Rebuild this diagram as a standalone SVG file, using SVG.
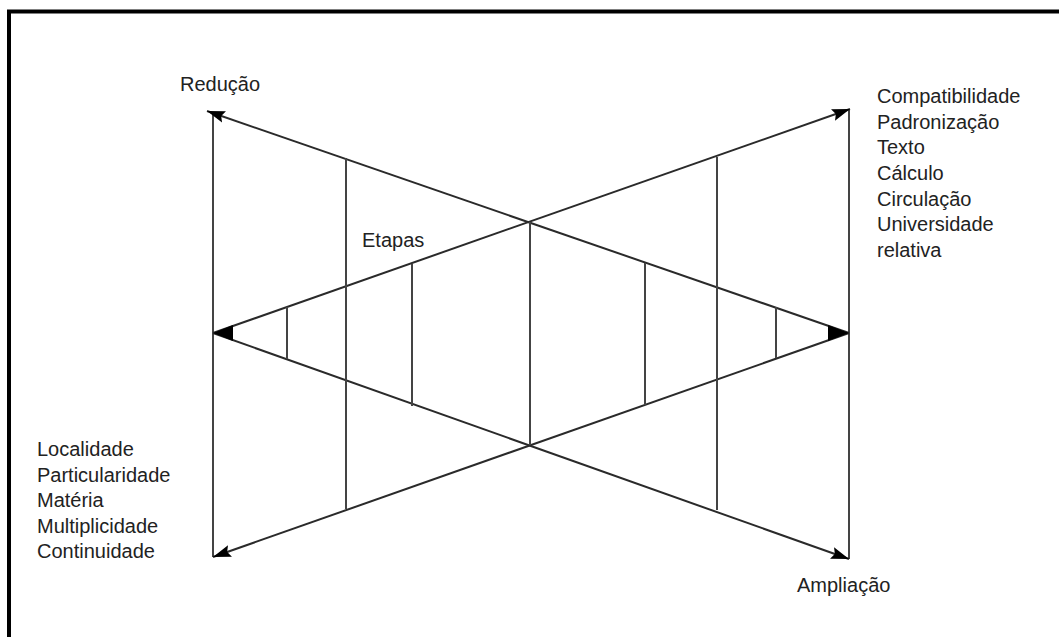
<svg xmlns="http://www.w3.org/2000/svg" width="1059" height="637" viewBox="0 0 1059 637">
<style>
.t{font-family:"Liberation Sans",Arial,sans-serif;font-size:20px;fill:#222}
.ln{stroke:#2a2a2a;stroke-width:2;fill:none}
.v{stroke:#444;stroke-width:2;fill:none}
.ah{fill:#000}
</style>
<defs>
<marker id="arr" markerUnits="userSpaceOnUse" markerWidth="20" markerHeight="14" refX="18" refY="7" orient="auto">
<path d="M0,1 L18,7 L0,13 L3,7 z" fill="#000"/>
</marker>
</defs>
<rect width="1059" height="637" fill="#fff"/>
<g id="frame">
<path d="M9,637 L9,11.5 L1059,11.5" stroke="#000" stroke-width="4" fill="none"/>
</g>
<g id="connectors">
<line class="v" x1="213" y1="113" x2="213" y2="557"/>
<line class="v" x1="849" y1="110" x2="849" y2="559"/>
<line class="ln" x1="849" y1="333" x2="207" y2="111" marker-end="url(#arr)"/>
<line class="ln" x1="213" y1="333" x2="850" y2="109" marker-end="url(#arr)"/>
<line class="ln" x1="849" y1="333" x2="213" y2="557" marker-end="url(#arr)"/>
<line class="ln" x1="213" y1="333" x2="849" y2="559" marker-end="url(#arr)"/>
<polygon class="ah" points="213,333 233,325 233,341"/>
<polygon class="ah" points="849,333 828,325 828,341"/>
<line class="v" x1="287" y1="307" x2="287" y2="359"/>
<line class="v" x1="346" y1="158" x2="346" y2="509"/>
<line class="v" x1="412" y1="264" x2="412" y2="406"/>
<line class="v" x1="530" y1="222" x2="530" y2="445"/>
<line class="v" x1="645" y1="263" x2="645" y2="405"/>
<line class="v" x1="717" y1="157" x2="717" y2="510"/>
<line class="v" x1="776" y1="307" x2="776" y2="358"/>
</g>
<g id="reducao"><text class="t" x="180" y="91">Redução</text></g>
<g id="ampliacao"><text class="t" x="797" y="592">Ampliação</text></g>
<g id="etapas"><text class="t" x="362" y="247">Etapas</text></g>
<g id="right-list">
<text class="t" x="877" y="103">Compatibilidade</text>
<text class="t" x="877" y="129">Padronização</text>
<text class="t" x="877" y="154">Texto</text>
<text class="t" x="877" y="180">Cálculo</text>
<text class="t" x="877" y="206">Circulação</text>
<text class="t" x="877" y="231">Universidade</text>
<text class="t" x="877" y="257">relativa</text>
</g>
<g id="left-list">
<text class="t" x="37" y="456">Localidade</text>
<text class="t" x="37" y="482">Particularidade</text>
<text class="t" x="37" y="507">Matéria</text>
<text class="t" x="37" y="533">Multiplicidade</text>
<text class="t" x="37" y="558">Continuidade</text>
</g>
</svg>
